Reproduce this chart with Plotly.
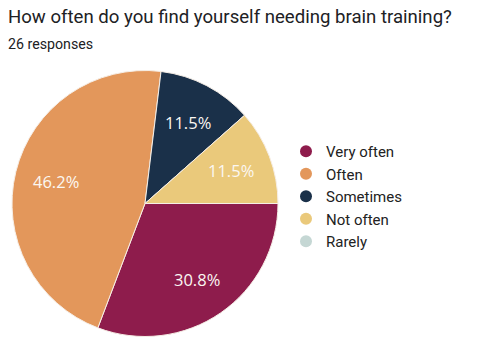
import math
import plotly.graph_objects as go

categories = ["Very often", "Often", "Sometimes", "Not often", "Rarely"]
counts = [8, 12, 3, 3, 0]
colors = ["#8E1C4C", "#E3975B", "#1A3049", "#EAC97B", "#C5D7D4"]
title = "How often do you find yourself needing brain training?"
subtitle = "26 responses"

W, H = 480, 360
dom_x = [12 / W, 278 / W]
dom_y = [23 / H, 290 / H]

fig = go.Figure()
fig.add_trace(go.Pie(
    labels=categories, values=counts, sort=False, direction="clockwise",
    rotation=90, marker=dict(colors=colors, line=dict(color="#F6EEE6", width=1)),
    textinfo="none", showlegend=False, hoverinfo="label+percent",
    domain=dict(x=dom_x, y=dom_y),
))
for c, col in zip(categories, colors):
    fig.add_trace(go.Scatter(
        x=[None], y=[None], mode="markers", name=c,
        marker=dict(symbol="circle", size=15, color=col),
        showlegend=True,
    ))

# percentage labels placed along each slice's mid-angle
cx_px = (dom_x[0] + dom_x[1]) / 2 * W
cy_px = H - (dom_y[0] + dom_y[1]) / 2 * H
R = min((dom_x[1] - dom_x[0]) * W, (dom_y[1] - dom_y[0]) * H) / 2
total = sum(counts)
annotations = []
cum = 0.0
for v in counts:
    if v > 0:
        mid = (cum + v / 2) / total * 2 * math.pi  # clockwise from east
        px = cx_px + 0.69 * R * math.cos(mid)
        py = cy_px + 0.69 * R * math.sin(mid)
        annotations.append(dict(
            text=f"{v / total * 100:.1f}%", x=px / W, y=1 - py / H,
            xref="paper", yref="paper", showarrow=False,
            xanchor="center", yanchor="middle",
            font=dict(family="Open Sans", size=16.5, color="#FBF7F2")))
    cum += v

annotations += [
    dict(text=title, x=6 / W, y=1 - 4 / H, xref="paper", yref="paper",
         xanchor="left", yanchor="top", showarrow=False,
         font=dict(family="Roboto", size=18.6, color="#202124")),
    dict(text=subtitle, x=6 / W, y=1 - 34 / H, xref="paper", yref="paper",
         xanchor="left", yanchor="top", showarrow=False,
         font=dict(family="Roboto", size=14.2, color="#202124")),
]

fig.update_layout(
    width=W, height=H, margin=dict(l=0, r=0, t=0, b=0),
    paper_bgcolor="white", plot_bgcolor="white",
    xaxis=dict(visible=False), yaxis=dict(visible=False),
    legend=dict(x=286 / W, y=(H - 135) / H, xanchor="left", yanchor="top",
                font=dict(family="Roboto", size=15, color="#222222"),
                tracegroupgap=0, itemsizing="constant", bgcolor="rgba(0,0,0,0)"),
    annotations=annotations,
)
fig.write_html("out.html")
